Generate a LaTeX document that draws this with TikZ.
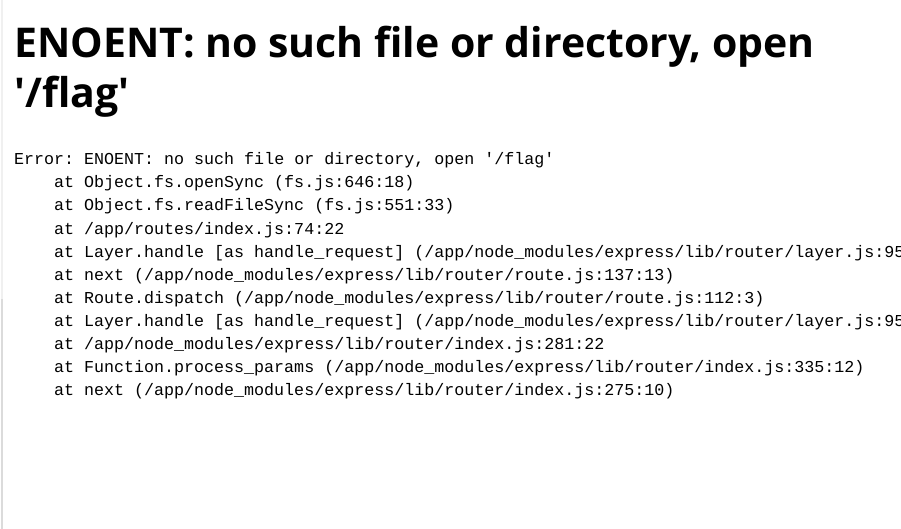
\documentclass[tikz,border=0pt]{standalone}
\usepackage{fontspec}
\newfontfamily\headfont{Open Sans}
\setmonofont{Liberation Mono}
\tikzset{
  heading/.style={anchor=base west, inner sep=0pt, font=\headfont\fontsize{41pt}{50pt}\bfseries\selectfont},
  stackline/.style={anchor=base west, inner sep=0pt, font=\fontsize{16.67pt}{23pt}\ttfamily\selectfont},
}
\begin{document}
\begin{tikzpicture}[x=1pt,y=-1pt]
\useasboundingbox (0,0) rectangle (901,529);
\clip (0,0) rectangle (901,529);
\fill[white] (0,0) rectangle (901,529);
\fill[gray!12] (0.5,0) rectangle (3,299);
\fill[gray!28] (0.5,299) rectangle (3,529);
\node[heading] (h1) at (14,58) {ENOENT: no such file or directory, open};
\node[heading] (h2) at (14,108) {'/flag'};
\node[stackline] (l0) at (14,165) {Error: ENOENT: no such file or directory, open \char39/flag\char39};
\node[stackline] (l1) at (54,188) {at Object.fs.openSync (fs.js:646:18)};
\node[stackline] (l2) at (54,211) {at Object.fs.readFileSync (fs.js:551:33)};
\node[stackline] (l3) at (54,234) {at /app/routes/index.js:74:22};
\node[stackline] (l4) at (54,257) {at Layer.handle [as handle\_request] (/app/node\_modules/express/lib/router/layer.js:95};
\node[stackline] (l5) at (54,280) {at next (/app/node\_modules/express/lib/router/route.js:137:13)};
\node[stackline] (l6) at (54,303) {at Route.dispatch (/app/node\_modules/express/lib/router/route.js:112:3)};
\node[stackline] (l7) at (54,326) {at Layer.handle [as handle\_request] (/app/node\_modules/express/lib/router/layer.js:95};
\node[stackline] (l8) at (54,349) {at /app/node\_modules/express/lib/router/index.js:281:22};
\node[stackline] (l9) at (54,372) {at Function.process\_params (/app/node\_modules/express/lib/router/index.js:335:12)};
\node[stackline] (l10) at (54,395) {at next (/app/node\_modules/express/lib/router/index.js:275:10)};
\end{tikzpicture}
\end{document}
